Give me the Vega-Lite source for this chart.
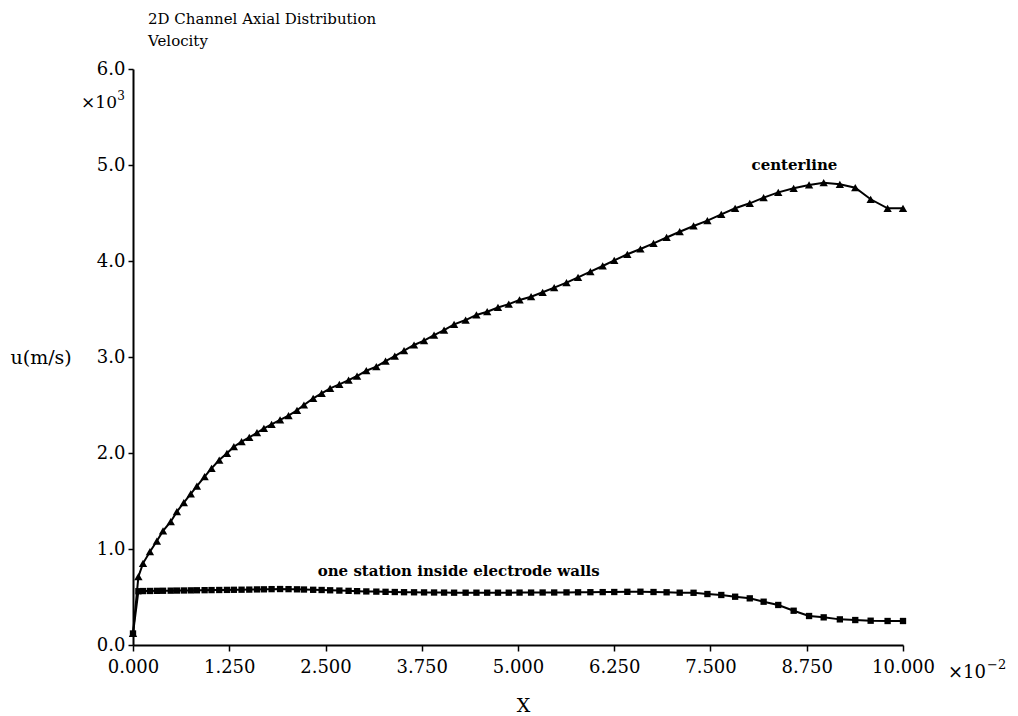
{
  "$schema": "https://vega.github.io/schema/vega-lite/v6.json",
  "width": 770,
  "height": 576,
  "autosize": {"type": "none"},
  "padding": {"left": 133, "top": 69, "right": 115, "bottom": 71},
  "background": "white",
  "config": {
    "view": {"stroke": null},
    "font": "DejaVu Serif",
    "axis": {
      "grid": false,
      "domainColor": "black",
      "domainWidth": 2,
      "tickColor": "black",
      "tickWidth": 1.5,
      "labelColor": "black",
      "labelFont": "DejaVu Serif",
      "labelFontSize": 18,
      "titleColor": "black",
      "titleFont": "DejaVu Serif",
      "titleFontSize": 19,
      "titleFontWeight": "normal"
    }
  },
  "title": {
    "text": ["2D Channel Axial Distribution", "Velocity"],
    "anchor": "start",
    "frame": "group",
    "font": "DejaVu Serif",
    "fontSize": 15,
    "fontWeight": "normal",
    "color": "black",
    "lineHeight": 22,
    "baseline": "bottom",
    "dx": 15,
    "dy": 11,
    "offset": 7
  },
  "datasets": {
    "profiles": [
      {"series": "centerline", "x": 0.0, "u": 120},
      {"series": "centerline", "x": 0.0007, "u": 711},
      {"series": "centerline", "x": 0.0013, "u": 851},
      {"series": "centerline", "x": 0.0022, "u": 972},
      {"series": "centerline", "x": 0.0031, "u": 1083},
      {"series": "centerline", "x": 0.0039, "u": 1188},
      {"series": "centerline", "x": 0.0049, "u": 1284},
      {"series": "centerline", "x": 0.0057, "u": 1389},
      {"series": "centerline", "x": 0.0066, "u": 1482},
      {"series": "centerline", "x": 0.0075, "u": 1573},
      {"series": "centerline", "x": 0.0083, "u": 1656},
      {"series": "centerline", "x": 0.0093, "u": 1753},
      {"series": "centerline", "x": 0.0102, "u": 1840},
      {"series": "centerline", "x": 0.0112, "u": 1927},
      {"series": "centerline", "x": 0.0122, "u": 1997},
      {"series": "centerline", "x": 0.0131, "u": 2066},
      {"series": "centerline", "x": 0.0141, "u": 2118},
      {"series": "centerline", "x": 0.0151, "u": 2163},
      {"series": "centerline", "x": 0.0161, "u": 2211},
      {"series": "centerline", "x": 0.0170, "u": 2257},
      {"series": "centerline", "x": 0.0180, "u": 2299},
      {"series": "centerline", "x": 0.0191, "u": 2344},
      {"series": "centerline", "x": 0.0202, "u": 2389},
      {"series": "centerline", "x": 0.0213, "u": 2445},
      {"series": "centerline", "x": 0.0222, "u": 2500},
      {"series": "centerline", "x": 0.0234, "u": 2569},
      {"series": "centerline", "x": 0.0245, "u": 2621},
      {"series": "centerline", "x": 0.0256, "u": 2674},
      {"series": "centerline", "x": 0.0268, "u": 2715},
      {"series": "centerline", "x": 0.0280, "u": 2760},
      {"series": "centerline", "x": 0.0291, "u": 2802},
      {"series": "centerline", "x": 0.0303, "u": 2857},
      {"series": "centerline", "x": 0.0316, "u": 2899},
      {"series": "centerline", "x": 0.0328, "u": 2958},
      {"series": "centerline", "x": 0.0340, "u": 3010},
      {"series": "centerline", "x": 0.0352, "u": 3066},
      {"series": "centerline", "x": 0.0365, "u": 3125},
      {"series": "centerline", "x": 0.0378, "u": 3170},
      {"series": "centerline", "x": 0.0391, "u": 3229},
      {"series": "centerline", "x": 0.0404, "u": 3281},
      {"series": "centerline", "x": 0.0417, "u": 3340},
      {"series": "centerline", "x": 0.0432, "u": 3385},
      {"series": "centerline", "x": 0.0446, "u": 3438},
      {"series": "centerline", "x": 0.0460, "u": 3472},
      {"series": "centerline", "x": 0.0474, "u": 3516},
      {"series": "centerline", "x": 0.0488, "u": 3551},
      {"series": "centerline", "x": 0.0502, "u": 3594},
      {"series": "centerline", "x": 0.0517, "u": 3628},
      {"series": "centerline", "x": 0.0532, "u": 3674},
      {"series": "centerline", "x": 0.0547, "u": 3722},
      {"series": "centerline", "x": 0.0563, "u": 3774},
      {"series": "centerline", "x": 0.0578, "u": 3830},
      {"series": "centerline", "x": 0.0594, "u": 3889},
      {"series": "centerline", "x": 0.0610, "u": 3948},
      {"series": "centerline", "x": 0.0625, "u": 4007},
      {"series": "centerline", "x": 0.0642, "u": 4070},
      {"series": "centerline", "x": 0.0659, "u": 4125},
      {"series": "centerline", "x": 0.0676, "u": 4184},
      {"series": "centerline", "x": 0.0693, "u": 4245},
      {"series": "centerline", "x": 0.0710, "u": 4305},
      {"series": "centerline", "x": 0.0728, "u": 4365},
      {"series": "centerline", "x": 0.0746, "u": 4420},
      {"series": "centerline", "x": 0.0764, "u": 4486},
      {"series": "centerline", "x": 0.0782, "u": 4549},
      {"series": "centerline", "x": 0.0801, "u": 4601},
      {"series": "centerline", "x": 0.0819, "u": 4660},
      {"series": "centerline", "x": 0.0838, "u": 4715},
      {"series": "centerline", "x": 0.0858, "u": 4757},
      {"series": "centerline", "x": 0.0878, "u": 4792},
      {"series": "centerline", "x": 0.0897, "u": 4816},
      {"series": "centerline", "x": 0.0918, "u": 4799},
      {"series": "centerline", "x": 0.0938, "u": 4764},
      {"series": "centerline", "x": 0.0958, "u": 4643},
      {"series": "centerline", "x": 0.0980, "u": 4549},
      {"series": "centerline", "x": 0.1000, "u": 4549},
      {"series": "wall", "x": 0.0, "u": 120},
      {"series": "wall", "x": 0.0007, "u": 560},
      {"series": "wall", "x": 0.0013, "u": 562},
      {"series": "wall", "x": 0.0022, "u": 563},
      {"series": "wall", "x": 0.0031, "u": 564},
      {"series": "wall", "x": 0.0039, "u": 565},
      {"series": "wall", "x": 0.0049, "u": 566},
      {"series": "wall", "x": 0.0057, "u": 567},
      {"series": "wall", "x": 0.0066, "u": 568},
      {"series": "wall", "x": 0.0075, "u": 569},
      {"series": "wall", "x": 0.0083, "u": 570},
      {"series": "wall", "x": 0.0093, "u": 571},
      {"series": "wall", "x": 0.0102, "u": 572},
      {"series": "wall", "x": 0.0112, "u": 573},
      {"series": "wall", "x": 0.0122, "u": 574},
      {"series": "wall", "x": 0.0131, "u": 575},
      {"series": "wall", "x": 0.0141, "u": 576},
      {"series": "wall", "x": 0.0151, "u": 577},
      {"series": "wall", "x": 0.0161, "u": 579},
      {"series": "wall", "x": 0.0170, "u": 580},
      {"series": "wall", "x": 0.0180, "u": 582},
      {"series": "wall", "x": 0.0191, "u": 583},
      {"series": "wall", "x": 0.0202, "u": 582},
      {"series": "wall", "x": 0.0213, "u": 580},
      {"series": "wall", "x": 0.0222, "u": 578},
      {"series": "wall", "x": 0.0234, "u": 575},
      {"series": "wall", "x": 0.0245, "u": 573},
      {"series": "wall", "x": 0.0256, "u": 570},
      {"series": "wall", "x": 0.0268, "u": 567},
      {"series": "wall", "x": 0.0280, "u": 564},
      {"series": "wall", "x": 0.0291, "u": 561},
      {"series": "wall", "x": 0.0303, "u": 558},
      {"series": "wall", "x": 0.0316, "u": 556},
      {"series": "wall", "x": 0.0328, "u": 554},
      {"series": "wall", "x": 0.0340, "u": 552},
      {"series": "wall", "x": 0.0352, "u": 550},
      {"series": "wall", "x": 0.0365, "u": 549},
      {"series": "wall", "x": 0.0378, "u": 548},
      {"series": "wall", "x": 0.0391, "u": 547},
      {"series": "wall", "x": 0.0404, "u": 546},
      {"series": "wall", "x": 0.0417, "u": 545},
      {"series": "wall", "x": 0.0432, "u": 545},
      {"series": "wall", "x": 0.0446, "u": 545},
      {"series": "wall", "x": 0.0460, "u": 545},
      {"series": "wall", "x": 0.0474, "u": 545},
      {"series": "wall", "x": 0.0488, "u": 545},
      {"series": "wall", "x": 0.0502, "u": 546},
      {"series": "wall", "x": 0.0517, "u": 546},
      {"series": "wall", "x": 0.0532, "u": 547},
      {"series": "wall", "x": 0.0547, "u": 547},
      {"series": "wall", "x": 0.0563, "u": 548},
      {"series": "wall", "x": 0.0578, "u": 549},
      {"series": "wall", "x": 0.0594, "u": 550},
      {"series": "wall", "x": 0.0610, "u": 551},
      {"series": "wall", "x": 0.0625, "u": 552},
      {"series": "wall", "x": 0.0642, "u": 554},
      {"series": "wall", "x": 0.0659, "u": 555},
      {"series": "wall", "x": 0.0676, "u": 552},
      {"series": "wall", "x": 0.0693, "u": 549},
      {"series": "wall", "x": 0.0710, "u": 545},
      {"series": "wall", "x": 0.0728, "u": 544},
      {"series": "wall", "x": 0.0746, "u": 531},
      {"series": "wall", "x": 0.0764, "u": 521},
      {"series": "wall", "x": 0.0782, "u": 503},
      {"series": "wall", "x": 0.0801, "u": 486},
      {"series": "wall", "x": 0.0819, "u": 451},
      {"series": "wall", "x": 0.0838, "u": 417},
      {"series": "wall", "x": 0.0858, "u": 357},
      {"series": "wall", "x": 0.0878, "u": 302},
      {"series": "wall", "x": 0.0897, "u": 288},
      {"series": "wall", "x": 0.0918, "u": 267},
      {"series": "wall", "x": 0.0938, "u": 260},
      {"series": "wall", "x": 0.0958, "u": 253},
      {"series": "wall", "x": 0.0980, "u": 250},
      {"series": "wall", "x": 0.1000, "u": 250}
    ],
    "curveLabels": [
      {"label": "centerline", "x": 0.0859, "u": 5000},
      {"label": "one station inside electrode walls", "x": 0.0423, "u": 771}
    ]
  },
  "layer": [
    {
      "data": {"name": "profiles"},
      "mark": {"type": "line", "color": "black", "strokeWidth": 2},
      "encoding": {
        "x": {
          "field": "x",
          "type": "quantitative",
          "scale": {"domain": [0, 0.1], "nice": false, "zero": false},
          "axis": {
            "title": "X",
            "values": [0, 0.0125, 0.025, 0.0375, 0.05, 0.0625, 0.075, 0.0875, 0.1],
            "labelExpr": "format(datum.value * 100, '.3f')",
            "labelFlush": false,
            "labelOverlap": false,
            "tickSize": 6,
            "labelPadding": 7,
            "titleX": 390,
            "titleY": 51,
            "titleBaseline": "top",
            "titleAlign": "center"
          }
        },
        "y": {
          "field": "u",
          "type": "quantitative",
          "scale": {"domain": [0, 6000], "nice": false},
          "axis": {
            "title": "u(m/s)",
            "values": [0, 1000, 2000, 3000, 4000, 5000, 6000],
            "labelExpr": "format(datum.value / 1000, '.1f')",
            "labelOverlap": false,
            "labelFlush": false,
            "tickSize": 5,
            "labelPadding": 3,
            "titleAngle": 0,
            "titleAlign": "left",
            "titleBaseline": "middle",
            "titleX": -123,
            "titleY": 288
          }
        },
        "detail": {"field": "series"}
      }
    },
    {
      "data": {"name": "profiles"},
      "mark": {"type": "point", "filled": true, "color": "black", "opacity": 1},
      "encoding": {
        "x": {"field": "x", "type": "quantitative"},
        "y": {"field": "u", "type": "quantitative"},
        "shape": {
          "field": "series",
          "type": "nominal",
          "scale": {"domain": ["centerline", "wall"], "range": ["triangle-up", "square"]},
          "legend": null
        },
        "size": {
          "field": "series",
          "type": "nominal",
          "scale": {"domain": ["centerline", "wall"], "range": [70, 40]},
          "legend": null
        }
      }
    },
    {
      "data": {"name": "curveLabels"},
      "mark": {
        "type": "text",
        "font": "DejaVu Serif",
        "fontWeight": "bold",
        "fontSize": 15,
        "color": "black",
        "align": "center",
        "baseline": "middle"
      },
      "encoding": {
        "x": {"field": "x", "type": "quantitative"},
        "y": {"field": "u", "type": "quantitative"},
        "text": {"field": "label"}
      }
    },
    {
      "data": {"values": [{"note": "y multiplier"}]},
      "mark": {
        "type": "text",
        "text": "×10",
        "font": "DejaVu Serif",
        "fontSize": 17,
        "color": "black",
        "align": "right",
        "baseline": "middle",
        "dx": -16,
        "dy": 34
      },
      "encoding": {
        "x": {"datum": 0, "type": "quantitative"},
        "y": {"datum": 6000, "type": "quantitative"}
      }
    },
    {
      "data": {"values": [{"note": "y exponent"}]},
      "mark": {
        "type": "text",
        "text": "3",
        "font": "DejaVu Serif",
        "fontSize": 12,
        "color": "black",
        "align": "right",
        "baseline": "middle",
        "dx": -8,
        "dy": 27
      },
      "encoding": {
        "x": {"datum": 0, "type": "quantitative"},
        "y": {"datum": 6000, "type": "quantitative"}
      }
    },
    {
      "data": {"values": [{"note": "x multiplier"}]},
      "mark": {
        "type": "text",
        "text": "×10",
        "font": "DejaVu Serif",
        "fontSize": 18,
        "color": "black",
        "align": "left",
        "baseline": "middle",
        "dx": 45,
        "dy": 28
      },
      "encoding": {
        "x": {"datum": 0.1, "type": "quantitative"},
        "y": {"datum": 0, "type": "quantitative"}
      }
    },
    {
      "data": {"values": [{"note": "x exponent"}]},
      "mark": {
        "type": "text",
        "text": "−2",
        "font": "DejaVu Serif",
        "fontSize": 13,
        "color": "black",
        "align": "left",
        "baseline": "middle",
        "dx": 84,
        "dy": 20
      },
      "encoding": {
        "x": {"datum": 0.1, "type": "quantitative"},
        "y": {"datum": 0, "type": "quantitative"}
      }
    }
  ]
}
